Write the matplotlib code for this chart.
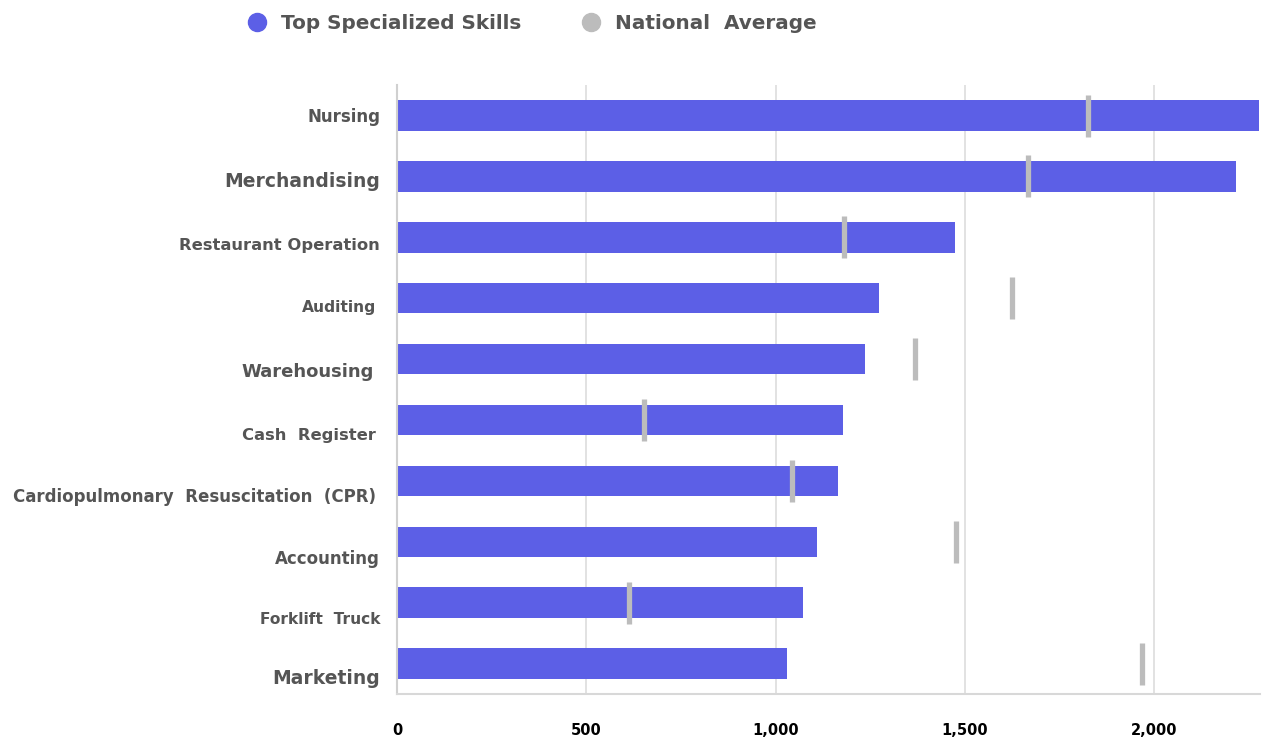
import matplotlib
matplotlib.use('Agg')
import matplotlib.pyplot as plt
import matplotlib.transforms as mtransforms
from matplotlib.lines import Line2D

skills = ['Nursing', 'Merchandising', 'Restaurant Operation', 'Auditing', 'Warehousing',
          'Cash  Register', 'Cardiopulmonary  Resuscitation  (CPR)', 'Accounting',
          'Forklift  Truck', 'Marketing']
top_skills = [2277, 2217, 1474, 1273, 1236, 1178, 1165, 1110, 1073, 1030]
national_avg = [1826, 1667, 1181, 1625, 1369, 653, 1044, 1477, 613, 1968]
xticks = [0, 500, 1000, 1500, 2000]
xtick_labels = ['0', '500', '1,000', '1,500', '2,000']

# label styling (the original renders labels at uneven sizes and drifts them downwards)
label_sizes = [12, 13.5, 11.8, 11.2, 13, 11.8, 12, 12, 11.1, 13.5]
label_drop = [0.02, 0.08, 0.13, 0.16, 0.21, 0.25, 0.27, 0.28, 0.27, 0.25]
label_gap = [17, 17, 17, 21, 23, 21, 21, 17, 17, 17]

blue = '#5c5fe6'
grey = '#bcbcbc'
label_col = '#555555'

fig = plt.figure(figsize=(12.68, 7.4), dpi=100)
ax = fig.add_axes([0.3131, 0.0622, 0.6806, 0.8228])

pos = list(range(len(skills)))
ax.barh(pos, top_skills, height=0.5, color=blue, zorder=2)
ax.plot(national_avg, pos, linestyle='none', marker='|', markersize=30,
        markeredgewidth=3.8, color=grey, zorder=3)

ax.set_ylim(len(skills) - 0.5, -0.5)
ax.set_xlim(0, 2280)
ax.set_yticks(pos)
ax.set_yticklabels([])
trans = mtransforms.blended_transform_factory(ax.transAxes, ax.transData)
for i, name in enumerate(skills):
    t = mtransforms.offset_copy(trans, fig=fig, x=-label_gap[i], y=0, units='dots')
    ax.text(0, pos[i] + label_drop[i], name, transform=t, ha='right', va='center',
            fontsize=label_sizes[i], fontweight='bold', color=label_col)

ax.set_xticks(xticks)
ax.set_xticklabels(xtick_labels, fontsize=10.5, fontweight='bold', color='black')
ax.tick_params(axis='both', length=0)
ax.tick_params(axis='x', pad=21)

ax.grid(axis='x', color='#dddddd', linewidth=1.2, zorder=0)
for s in ['top', 'right']:
    ax.spines[s].set_visible(False)
ax.spines['left'].set_color('#d0d0d0')
ax.spines['left'].set_linewidth(1.5)
ax.spines['bottom'].set_color('#d8d8d8')
ax.spines['bottom'].set_linewidth(1.5)

handles = [Line2D([], [], linestyle='none', marker='o', markersize=13, color=blue),
           Line2D([], [], linestyle='none', marker='o', markersize=13, color=grey)]
leg = fig.legend(handles, ['Top Specialized Skills', 'National  Average'], loc='center',
                 bbox_to_anchor=(0.4185, 0.968), ncol=2, frameon=False, columnspacing=2.9,
                 handlelength=1.2, handletextpad=0.6, prop={'size': 14.4, 'weight': 'bold'})
for t in leg.get_texts():
    t.set_color(label_col)

fig.savefig('out.png', dpi=100)
